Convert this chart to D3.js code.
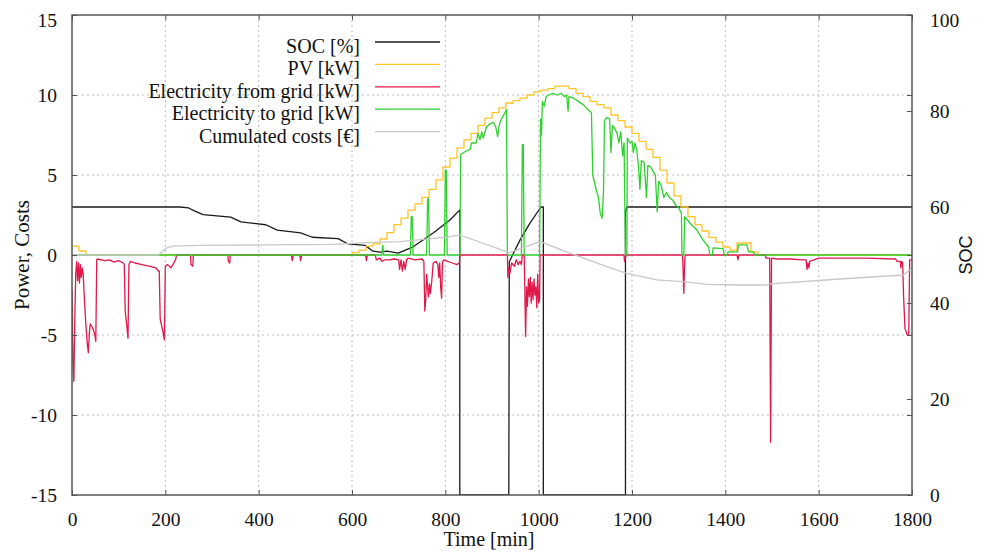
<!DOCTYPE html>
<html>
<head>
<meta charset="utf-8">
<script src="https://cdn.jsdelivr.net/npm/d3@7"></script>
<style>
  body { margin: 0; background: #fff; }
  svg { display: block; }
  text { fill: #111; }
</style>
</head>
<body>
<svg id="chart" width="986" height="553"></svg>
<script>
// SOC [%] (right axis) as [min, value] breakpoints
var socData = [[0,60],[231,60],[250,59.8],[262,59.2],[281,58.4],[340,57.9],[362,56.9],[415,56.3],[440,55.2],
  [490,54.6],[515,53.7],[570,53.4],[592,52.3],[628,52.0],[645,50.8],[660,50.6],[675,50.8],[699,50.4],
  [731,51.7],[774,54.6],[810,57.3],[831,59.4],[831,0],[936,0],[937,48.6],[960,53.1],[981,56.6],
  [1005,60],[1010,60],[1010,0],[1186,0],[1186,59],[1189,60],[1800,60]];

// PV [kW], 15 min steps
var pvTimes = [0,15,30,600,615,630,645,660,675,690,705,720,735,750,765,780,795,810,825,840,855,870,885,900,
  915,930,945,960,975,990,1005,1020,1035,1050,1065,1080,1095,1110,1125,1140,1155,1170,1185,1200,1215,
  1230,1245,1260,1275,1290,1305,1320,1335,1350,1365,1380,1395,1410,1425,1440,1455,1470,1800];
var pvValues = [0.55,0.25,0,0.15,0.3,0.55,0.7,1.0,1.4,1.9,2.3,2.8,3.2,3.6,4.1,4.7,5.5,6.05,6.7,7.2,7.6,8.1,8.55,8.9,
  9.2,9.5,9.65,9.8,10.0,10.2,10.3,10.4,10.55,10.55,10.4,10.1,9.9,9.6,9.4,9.2,8.75,8.4,8.0,7.6,7.1,
  6.6,6.1,5.3,4.5,3.7,3.0,2.4,1.9,1.5,1.1,0.8,0.5,0.3,0.75,0.75,0.2,0,0];

// Electricity from grid [kW]
var gridFromData = [[0,-2.2],[2,-6.5],[4,-7.9],[6,-4.0],[8,-1.2],[10,-0.4],[12,-1.6],[14,-0.5],[16,-1.75],
  [18,-0.6],[20,-1.4],[22,-0.8],[24,-1.2],[27,-3.0],[30,-4.5],[33,-5.6],[35,-6.1],[37,-5.0],[39,-4.3],
  [43,-4.5],[46,-4.7],[49,-5.0],[51,-5.4],[53,-0.3],[55,-0.25],[70,-0.35],[80,-0.3],[90,-0.45],[100,-0.35],
  [110,-0.5],[112,-0.6],[114,-3.5],[118,-4.6],[120,-5.2],[122,-0.6],[125,-0.4],[135,-0.5],[150,-0.6],
  [165,-0.7],[180,-0.8],[185,-1.0],[187,-1.0],[189,-4.0],[195,-4.8],[198,-5.3],[200,-0.7],[205,-0.6],
  [212,-0.8],[218,-0.5],[222,-0.3],[224,0],[254,0],[255,-0.6],[259,-0.7],[260,0],[334,0],[335,-0.4],
  [338,-0.5],[339,0],[470,0],[472,-0.35],[474,0],[488,0],[490,-0.35],[492,0],[629,0],[631,-0.35],[633,0],
  [650,0],[652,-0.3],[660,-0.2],[664,-0.4],[670,-0.3],[680,-0.3],[690,-0.25],[700,-0.3],[702,-0.9],
  [705,-0.3],[708,-1.0],[711,-0.4],[714,-0.9],[717,-0.3],[720,-0.2],[735,-0.3],[750,-0.25],[754,-0.4],
  [756,-3.5],[758,-2.8],[760,-1.2],[762,-2.0],[764,-2.6],[766,-1.8],[768,-2.4],[771,-1.6],[774,-0.5],
  [780,-0.4],[784,-0.6],[786,-1.4],[788,-0.5],[790,-2.0],[792,-2.7],[794,-0.4],[798,-0.3],[805,-0.4],
  [815,-0.5],[825,-0.6],[830,-0.5],[831,0],[933,0],[934,-1.4],[936,-0.8],[938,-1.2],[942,-0.5],[948,-0.7],
  [952,-0.3],[956,-0.6],[960,-0.4],[963,-0.6],[965,0],[969,0],[970,-1.5],[972,-5.1],[974,-2.0],[976,-3.2],
  [978,-1.5],[980,-2.6],[982,-1.4],[984,-3.0],[986,-1.7],[988,-2.8],[990,-1.5],[992,-2.5],[994,-2.0],
  [996,-3.3],[998,-1.2],[1000,-3.0],[1002,-2.8],[1003,0],[1183,0],[1184,-0.4],[1186,-0.2],[1187,0],
  [1308,0],[1309,-0.5],[1311,-2.4],[1313,-0.3],[1314,0],[1425,0],[1427,-0.3],[1429,0],[1486,0],
  [1487,-0.2],[1495,-0.2],[1496,-5.9],[1497,-11.7],[1498,-5.9],[1499,-0.2],[1510,-0.25],[1540,-0.25],
  [1565,-0.3],[1573,-0.3],[1575,-0.9],[1577,-0.5],[1579,-0.8],[1581,-0.4],[1590,-0.3],[1600,-0.2],
  [1700,-0.2],[1765,-0.25],[1768,-0.4],[1775,-0.4],[1776,-0.8],[1778,-0.4],[1780,-0.5],[1782,-2.6],
  [1785,-4.6],[1790,-5.0],[1793,-5.0],[1795,-0.3],[1800,-0.3]];

// Electricity to grid [kW]
var gridToData = [[0,0],[664,0],[666,0.6],[668,0],[725,0],[727,2.4],[729,2.4],[731,0],[760,0],[762,3.5],
  [764,3.5],[766,0],[798,0],[800,5.3],[802,5.3],[804,0],[831,0],[833,6.3],[845,6.5],[853,6.6],[856,7.0],
  [866,7.0],[870,7.6],[874,7.2],[878,7.7],[881,7.3],[888,8.0],[896,8.2],[903,8.3],[908,8.0],[912,7.4],
  [916,8.2],[922,8.6],[928,8.9],[931,9.1],[933,0],[963,0],[965,6.9],[967,6.9],[969,0],[1002,0],[1004,8.5],
  [1006,7.5],[1008,9.6],[1012,9.3],[1016,9.9],[1022,10.0],[1030,10.1],[1040,10.0],[1048,10.1],[1055,9.9],
  [1060,10.0],[1063,9.0],[1065,9.9],[1075,9.8],[1085,9.6],[1095,9.4],[1105,9.1],[1113,8.9],[1116,5.0],
  [1120,4.5],[1124,4.0],[1128,3.6],[1132,2.6],[1136,2.3],[1139,4.0],[1141,8.4],[1146,8.6],[1152,8.5],
  [1155,6.4],[1158,8.1],[1163,7.9],[1168,7.6],[1172,7.0],[1176,7.7],[1180,6.2],[1183,7.0],[1186,0],
  [1189,0],[1190,7.3],[1196,7.0],[1200,7.1],[1203,6.4],[1206,7.0],[1210,6.6],[1214,5.5],[1217,4.1],
  [1220,5.9],[1226,5.8],[1231,3.6],[1234,5.6],[1240,5.5],[1246,5.2],[1250,5.0],[1254,2.7],[1257,4.6],
  [1262,4.4],[1268,3.6],[1274,3.9],[1280,3.6],[1288,3.4],[1294,3.1],[1299,3.0],[1306,2.6],[1307,0],
  [1311,0],[1313,2.4],[1324,2.0],[1339,1.56],[1352,0.94],[1364,0.5],[1367,0],[1372,0],[1374,0.45],
  [1395,0.4],[1398,0],[1404,0],[1406,0.2],[1426,0.2],[1428,0.63],[1446,0.63],[1450,0.2],[1460,0.2],
  [1464,0],[1800,0]];

// Cumulated costs [€]
var costData = [[0,0],[185,0],[203,0.44],[217,0.56],[274,0.6],[418,0.63],[560,0.66],[632,0.77],[703,0.83],
  [774,1.04],[810,1.15],[831,1.25],[937,0.15],[1003,0.83],[1067,0.12],[1146,-0.73],[1189,-1.15],
  [1253,-1.56],[1309,-1.67],[1360,-1.83],[1431,-1.875],[1489,-1.875],[1496,-1.8],[1646,-1.5],
  [1781,-1.25],[1800,-0.83]];

var xTicks = [0,200,400,600,800,1000,1200,1400,1600,1800];
var yTicks = [-15,-10,-5,0,5,10,15];
var y2Ticks = [0,20,40,60,80,100];

var legendLabels = ["SOC [%]", "PV [kW]", "Electricity from grid [kW]", "Electricity to grid [kW]", "Cumulated costs [€]"];
var colors = ["#1a1a1a", "#ffc526", "#e0194a", "#2fd02f", "#c8c8c8"];

var svg = d3.select("#chart");
var margin = {top: 15, right: 74, bottom: 58, left: 72};
var W = 986, H = 553;
var w = W - margin.left - margin.right, h = H - margin.top - margin.bottom;

var x = d3.scaleLinear().domain([0, 1800]).range([0, w]);
var y = d3.scaleLinear().domain([-15, 15]).range([h, 0]);
var y2 = d3.scaleLinear().domain([0, 100]).range([h, 0]);

var g = svg.append("g").attr("transform", "translate(" + margin.left + "," + margin.top + ")");

// grid
g.append("g").selectAll("line").data(xTicks.slice(1, -1)).join("line")
  .attr("x1", d => x(d)).attr("x2", d => x(d)).attr("y1", 0).attr("y2", h)
  .attr("stroke", "#bbb").attr("stroke-dasharray", "2,3");
g.append("g").selectAll("line").data(yTicks.slice(1, -1)).join("line")
  .attr("x1", 0).attr("x2", w).attr("y1", d => y(d)).attr("y2", d => y(d))
  .attr("stroke", "#bbb").attr("stroke-dasharray", "2,3");

g.append("clipPath").attr("id", "clip").append("rect").attr("width", w).attr("height", h);
var plot = g.append("g").attr("clip-path", "url(#clip)");

var line1 = d3.line().x(d => x(d[0])).y(d => y(d[1]));
var lineSoc = d3.line().x(d => x(d[0])).y(d => y2(d[1]));
var lineStep = d3.line().x(d => x(d[0])).y(d => y(d[1])).curve(d3.curveStepAfter);
var pvData = pvTimes.map((t, i) => [t, pvValues[i]]);

var series = [
  [socData, lineSoc],
  [pvData, lineStep],
  [gridFromData, line1],
  [gridToData, line1],
  [costData, line1]
];
series.forEach(function(s, i) {
  plot.append("path").datum(s[0]).attr("d", s[1])
    .attr("fill", "none").attr("stroke", colors[i]).attr("stroke-width", 1.3)
    .attr("stroke-linejoin", "round");
});

// axes
var font = "Liberation Serif, Times New Roman, serif";
var plain = d => String(d);
var ax = g.append("g").attr("transform", "translate(0," + h + ")")
  .call(d3.axisBottom(x).tickValues(xTicks).tickSizeInner(-5).tickSizeOuter(0).tickPadding(17).tickFormat(plain));
g.append("g").call(d3.axisTop(x).tickValues(xTicks).tickSizeInner(-5).tickSizeOuter(0).tickFormat(""));
var ay = g.append("g")
  .call(d3.axisLeft(y).tickValues(yTicks).tickSizeInner(-5).tickSizeOuter(0).tickPadding(15).tickFormat(plain));
g.append("g").attr("transform", "translate(" + w + ",0)")
  .call(d3.axisRight(y).tickValues(yTicks).tickSizeInner(-5).tickSizeOuter(0).tickFormat(""));
var ay2 = g.append("g").attr("transform", "translate(" + w + ",0)")
  .call(d3.axisRight(y2).tickValues(y2Ticks).tickSizeInner(-5).tickSizeOuter(0).tickPadding(18).tickFormat(plain));

[ax, ay, ay2].forEach(function(a) {
  a.attr("font-family", font).attr("font-size", 19.5);
  a.selectAll("text").attr("fill", "#111");
});
ay.selectAll(".tick text").filter(d => d === 15).attr("dy", "0.6em");
ay2.selectAll(".tick text").filter(d => d === 100).attr("dy", "0.6em");
g.selectAll(".domain").remove();
g.selectAll(".tick line").attr("stroke", "#555");

g.append("rect").attr("width", w).attr("height", h)
  .attr("fill", "none").attr("stroke", "#555").attr("stroke-width", 1.5);

// axis titles
svg.append("text").attr("x", margin.left + w / 2 - 3).attr("y", 546).attr("text-anchor", "middle")
  .attr("font-family", font).attr("font-size", 20).text("Time [min]");
svg.append("text").attr("transform", "translate(29," + (margin.top + h / 2) + ") rotate(-90)")
  .attr("text-anchor", "middle").attr("font-family", font).attr("font-size", 21).text("Power, Costs");
svg.append("text").attr("transform", "translate(972," + (margin.top + h / 2) + ") rotate(-90)")
  .attr("text-anchor", "middle").attr("font-family", "Liberation Sans, Arial, sans-serif")
  .attr("font-size", 18).text("SOC");

// legend
var leg = svg.append("g");
legendLabels.forEach(function(label, i) {
  var ly = 42 + i * 22.4;
  leg.append("line").attr("x1", 375).attr("x2", 440).attr("y1", ly).attr("y2", ly)
    .attr("stroke", colors[i]).attr("stroke-width", 1.3);
  leg.append("text").attr("x", 360).attr("y", ly + 11).attr("text-anchor", "end")
    .attr("font-family", font).attr("font-size", 20).text(label);
});
</script>
</body>
</html>
